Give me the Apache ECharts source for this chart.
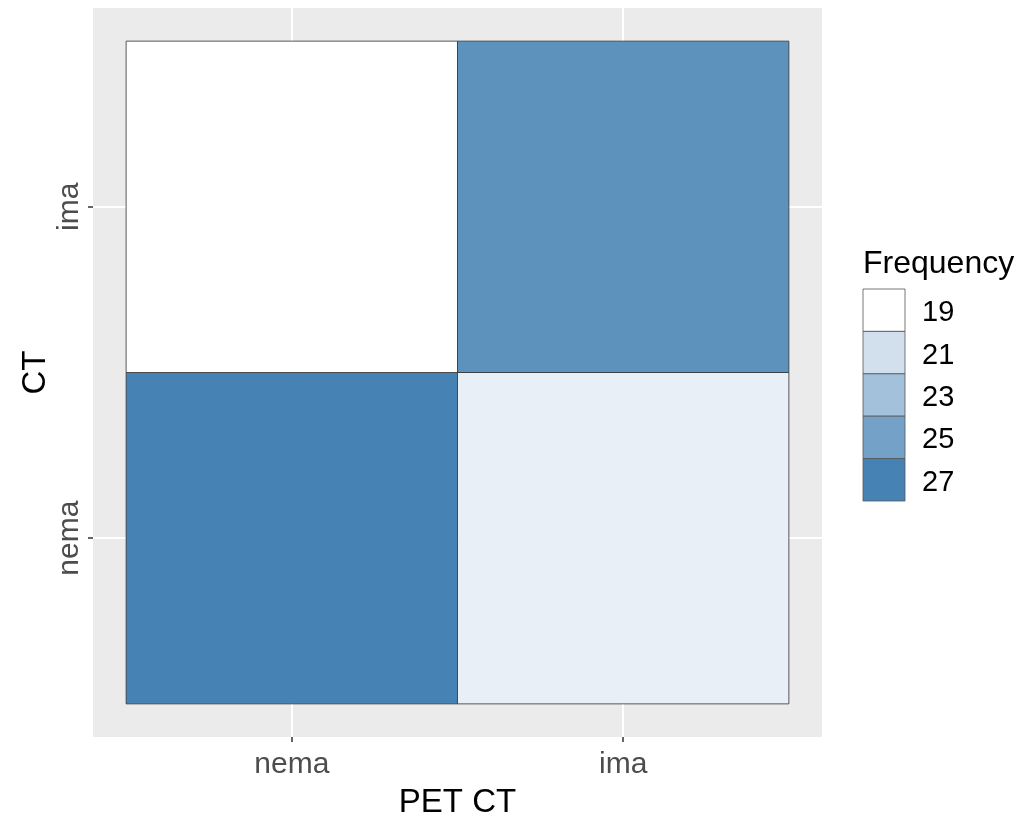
<!DOCTYPE html>
<html>
<head>
<meta charset="utf-8">
<script src="https://cdn.jsdelivr.net/npm/echarts@6/dist/echarts.min.js"></script>
<style>
  html, body { margin: 0; padding: 0; background: #ffffff; }
  #chart { width: 1016px; height: 813px; }
</style>
</head>
<body>
<div id="chart"></div>
<script>
// Category labels (positions 1, 2 on each axis)
const petCategories = ['nema', 'ima'];   // x axis: PET CT
const ctCategories = ['nema', 'ima'];    // y axis: CT, bottom to top

// Frequencies, one array per CT row, ordered by PET CT category
const ctNemaFreq = [27, 20];
const ctImaFreq = [19, 26];

// Legend breaks
const legendBreaks = [19, 21, 23, 25, 27];

const freqMin = 19;
const freqMax = 27;
const lowColor = '#FFFFFF';
const highColor = '#4682B4';

const cells = [];
[ctNemaFreq, ctImaFreq].forEach((row, yi) => {
  row.forEach((v, xi) => cells.push([xi + 1, yi + 1, v]));
});

// Panel geometry (discrete scale expanded by 0.6 around positions 1..2)
const panel = { left: 93, top: 8, width: 729, height: 729 };
const axisMin = 0.4, axisMax = 2.6;

const chart = echarts.init(document.getElementById('chart'), null, { renderer: 'canvas' });

const textFont = 'Liberation Sans, Arial, Helvetica, sans-serif';

// Legend keys built from the breaks
const keyW = 42, keyH = 42.4, keyLeft = 863, keyTop = 289;
const legendGraphics = [{
  type: 'text', left: keyLeft, top: 248,
  style: { text: 'Frequency', font: '32px ' + textFont, fill: '#000000' }
}];
legendBreaks.forEach((b, i) => {
  const c = echarts.color.lerp((b - freqMin) / (freqMax - freqMin), [lowColor, highColor]);
  legendGraphics.push({
    type: 'rect',
    shape: { x: keyLeft, y: keyTop + i * keyH, width: keyW, height: keyH },
    style: { fill: c, stroke: '#555555', lineWidth: 0.8 }
  });
  legendGraphics.push({
    type: 'text',
    x: keyLeft + 59, y: keyTop + i * keyH + keyH / 2 + 3,
    style: { text: String(b), font: '29px ' + textFont, fill: '#000000', verticalAlign: 'middle', align: 'left' }
  });
});

const axisCommon = {
  type: 'value',
  min: axisMin,
  max: axisMax,
  axisLine: { show: false },
  axisTick: { show: true, length: 5, customValues: [1, 2], lineStyle: { color: '#333333', width: 1.5 } },
  splitLine: { show: true, lineStyle: { color: '#FFFFFF', width: 2 } },
  nameLocation: 'middle',
  nameTextStyle: { fontFamily: textFont, fontSize: 33, color: '#000000' }
};

chart.setOption({
  animation: false,
  backgroundColor: '#FFFFFF',
  grid: {
    left: panel.left, top: panel.top, width: panel.width, height: panel.height,
    outerBoundsMode: 'none',
    containLabel: false,
    show: true, backgroundColor: '#EBEBEB', borderWidth: 0
  },
  xAxis: Object.assign({}, axisCommon, {
    name: 'PET CT',
    nameGap: 49,
    axisLabel: {
      customValues: [1, 2],
      formatter: v => petCategories[Math.round(v) - 1],
      fontFamily: textFont, fontSize: 30, color: '#4D4D4D', margin: 13
    }
  }),
  yAxis: Object.assign({}, axisCommon, {
    name: 'CT',
    nameGap: 41,
    nameMoveOverlap: false,
    nameRotate: 90,
    axisLabel: {
      customValues: [1, 2],
      rotate: 90,
      formatter: v => ctCategories[Math.round(v) - 1],
      fontFamily: textFont, fontSize: 30, color: '#4D4D4D', margin: 8
    }
  }),
  visualMap: {
    type: 'continuous',
    show: false,
    min: freqMin,
    max: freqMax,
    dimension: 2,
    seriesIndex: 0,
    inRange: { color: [lowColor, highColor] }
  },
  series: [{
    type: 'custom',
    name: 'Frequency',
    data: cells,
    encode: { x: 0, y: 1 },
    renderItem: function (params, api) {
      const x = api.value(0), y = api.value(1);
      const p0 = api.coord([x - 0.5, y + 0.5]);
      const p1 = api.coord([x + 0.5, y - 0.5]);
      return {
        type: 'rect',
        shape: { x: p0[0], y: p0[1], width: p1[0] - p0[0], height: p1[1] - p0[1] },
        style: { fill: api.visual('color'), stroke: '#333333', lineWidth: 0.8 }
      };
    }
  }],
  graphic: legendGraphics
});
</script>
</body>
</html>
